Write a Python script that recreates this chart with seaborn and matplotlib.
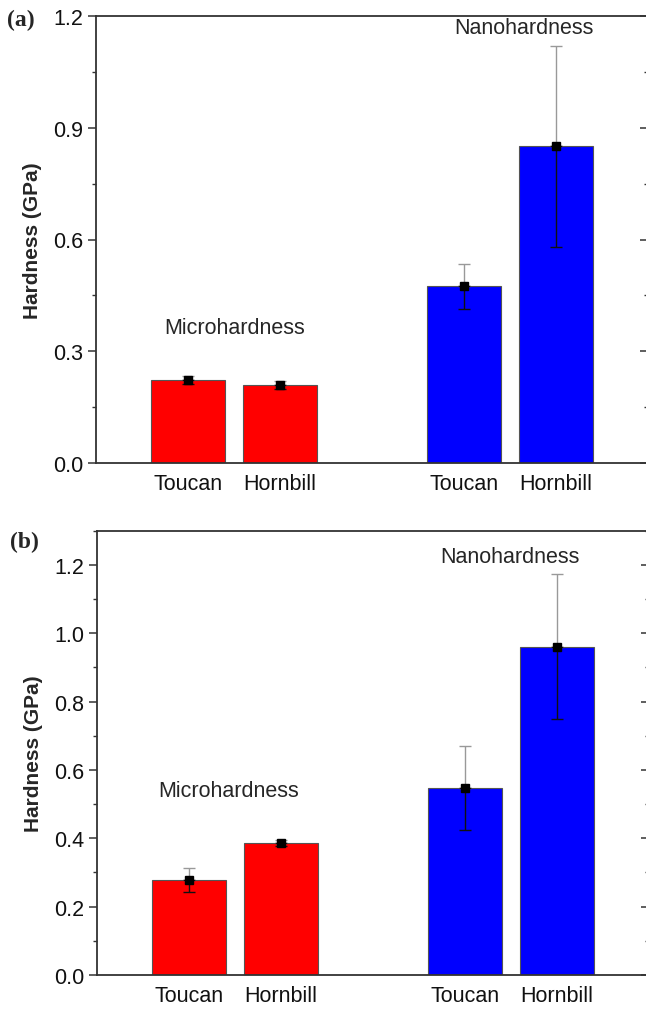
import matplotlib
matplotlib.use("Agg")
import matplotlib.pyplot as plt
import seaborn as sns
import pandas as pd
import numpy as np
from matplotlib.ticker import MultipleLocator

sns.set_style("white")
plt.rcParams['font.family'] = ['Liberation Sans', 'DejaVu Sans']

birds = ["Toucan", "Hornbill", "Toucan", "Hornbill"]
groups = ["Micro", "Micro", "Nano", "Nano"]
xpos = [1, 2, 4, 5]

vals_a = [0.223, 0.209, 0.474, 0.850]
errs_a = [0.010, 0.010, 0.061, 0.270]
vals_b = [0.278, 0.386, 0.547, 0.960]
errs_b = [0.034, 0.010, 0.122, 0.212]

yticks_a = [0.0, 0.3, 0.6, 0.9, 1.2]
yticks_b = [0.0, 0.2, 0.4, 0.6, 0.8, 1.0, 1.2]

colors = {"Micro": "#FF0000", "Nano": "#0000FF"}

fig = plt.figure(figsize=(6.46, 10.12), dpi=100)
W, H = 646, 1012

def make_ax(left, top, bottom, right):
    return fig.add_axes([left / W, 1 - bottom / H, (right - left) / W, (bottom - top) / H])

ax_a = make_ax(95.7, 17, 464, 648.3)
ax_b = make_ax(96.7, 531.7, 976, 649.3)

panels = [
    (ax_a, vals_a, errs_a, 1.2, yticks_a, 0.15, (1.51, 0.365), (4.65, 1.17)),
    (ax_b, vals_b, errs_b, 1.3, yticks_b, 0.1, (1.43, 0.539), (4.49, 1.224)),
]

spine_col = "#333333"
FS = 15.5
for ax, vals, errs, ytop, yticks, minor, micro_xy, nano_xy in panels:
    df = pd.DataFrame({"x": xpos, "val": vals, "group": groups})
    sns.barplot(data=df, x="x", y="val", hue="group", palette=colors,
                native_scale=True, dodge=False, width=0.8, ax=ax, saturation=1,
                edgecolor="#555555", linewidth=0.8, legend=False, errorbar=None)
    x = np.array(xpos, dtype=float)
    v = np.array(vals)
    e = np.array(errs)
    ax.errorbar(x, v, yerr=[np.zeros_like(e), e], fmt="none", ecolor="#999999",
                elinewidth=1.0, capsize=4, capthick=1.0, zorder=4)
    ax.errorbar(x, v, yerr=[e, np.zeros_like(e)], fmt="none", ecolor="#111111",
                elinewidth=1.0, capsize=4, capthick=1.0, zorder=4)
    ax.plot(x, v, linestyle="none", marker="s", markersize=6, color="black", zorder=5)

    ax.set_xlim(0, 6)
    ax.set_ylim(0, ytop)
    ax.set_yticks(yticks)
    ax.set_yticklabels([f"{t:.1f}" for t in yticks])
    ax.yaxis.set_minor_locator(MultipleLocator(minor))
    ax.set_xticks(xpos)
    ax.set_xticklabels(birds)
    ax.tick_params(axis="x", length=0, labelsize=FS, pad=7, colors="#111111")
    ax.tick_params(axis="y", which="major", direction="out", length=6, width=1.1, pad=3,
                   labelsize=FS, color=spine_col, labelcolor="#111111", left=True, right=False)
    ax.tick_params(axis="y", which="minor", direction="out", length=3, width=1.0,
                   color=spine_col, left=True, right=False)
    for side in ["left", "top", "bottom", "right"]:
        ax.spines[side].set_visible(True)
        ax.spines[side].set_color(spine_col)
        ax.spines[side].set_linewidth(1.3)
    ax.set_xlabel("")
    ax.set_ylabel("Hardness (GPa)", fontsize=15, fontweight="bold", labelpad=8)
    ax.text(micro_xy[0], micro_xy[1], "Microhardness", ha="center", va="center", fontsize=FS)
    ax.text(nano_xy[0], nano_xy[1], "Nanohardness", ha="center", va="center", fontsize=FS)

    # right-side inward ticks
    axr = ax.twinx()
    axr.set_ylim(0, ytop)
    axr.set_yticks(yticks)
    axr.yaxis.set_minor_locator(MultipleLocator(minor))
    axr.tick_params(axis="y", which="major", direction="in", length=6, width=1.1,
                    color=spine_col, labelright=False, right=True, left=False)
    axr.tick_params(axis="y", which="minor", direction="in", length=3, width=1.0,
                    color=spine_col, labelright=False, right=True, left=False)
    for side in ["left", "top", "bottom", "right"]:
        axr.spines[side].set_visible(False)

fig.text(7 / W, 1 - 20 / H, "(a)", fontsize=17, fontweight="bold",
         family=["Liberation Serif", "DejaVu Serif"], va="center", ha="left")
fig.text(10 / W, 1 - 542 / H, "(b)", fontsize=17, fontweight="bold",
         family=["Liberation Serif", "DejaVu Serif"], va="center", ha="left")

fig.savefig("out.png", dpi=100)
